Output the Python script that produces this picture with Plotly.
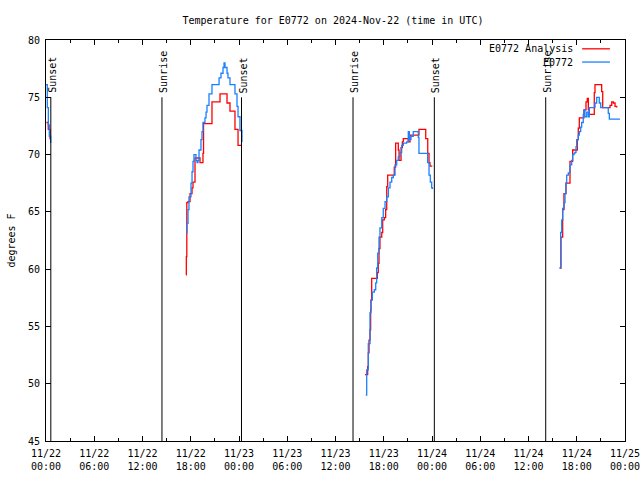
import pandas as pd
import plotly.graph_objects as go

TITLE = "Temperature for E0772 on 2024-Nov-22 (time in UTC)"
BASE = pd.Timestamp("2024-11-22 00:00")

# hours since 2024-11-22 00:00 UTC, temperature in degrees F (segments separated by gaps)
ana_h = [
    [0.05, 0.28, 0.50, 0.56],
    [17.41, 17.45, 17.51, 17.66, 17.91, 18.16, 18.28, 18.53, 19.15, 19.52, 19.59, 20.64,
     21.64, 22.51, 22.88, 23.50, 23.88, 24.37],
    [39.67, 40.00, 40.08, 40.17, 40.29, 40.37, 40.41, 40.50, 41.20, 41.32, 41.41, 41.53,
     41.75, 41.87, 42.07, 42.24, 42.37, 42.49, 43.31, 43.48, 43.81, 43.90, 44.15, 44.31,
     44.43, 45.05, 45.27, 46.38, 47.22, 47.47, 47.63, 47.75, 48.04],
    [63.92, 64.04, 64.25, 64.41, 64.66, 65.16, 65.49, 66.07, 66.19, 66.32, 66.90, 67.15,
     67.31, 67.44, 67.56, 68.18, 68.27, 69.10, 69.23, 70.14, 70.35, 70.55, 70.76, 70.97],
]
ana_t = [
    [72.8, 72.2, 71.4, 71.4],
    [59.5, 61.1, 65.8, 65.9, 66.6, 67.1, 67.6, 69.7, 69.3, 70.1, 72.7, 74.6,
     75.3, 74.5, 73.8, 72.2, 70.8, 70.8],
    [50.8, 51.5, 52.7, 53.8, 54.7, 56.4, 57.3, 59.2, 59.7, 60.5, 61.8, 62.8,
     63.2, 64.3, 64.5, 65.2, 67.2, 68.2, 68.9, 71.0, 70.4, 69.5, 70.6, 71.1,
     71.4, 71.1, 71.7, 72.2, 71.4, 70.1, 69.3, 69.0, 69.0],
    [60.1, 62.8, 65.2, 66.6, 67.5, 69.4, 70.4, 71.3, 72.3, 73.2, 73.9, 74.6,
     74.9, 73.9, 73.5, 75.4, 76.1, 75.5, 74.1, 74.3, 74.6, 74.5, 74.2, 74.1],
]
obs_h = [
    [0.00, 0.16, 0.29, 0.41, 0.58],
    [17.41, 17.53, 17.66, 17.78, 18.03, 18.16, 18.28, 18.40, 18.65, 18.78, 18.90, 19.03,
     19.27, 19.40, 19.52, 19.77, 19.90, 20.02, 20.27, 20.64, 21.52, 21.76, 22.01, 22.14,
     22.26, 22.51, 22.63, 22.88, 23.50, 23.75, 23.88, 24.12, 24.37],
    [39.76, 39.88, 40.08, 40.29, 40.41, 40.58, 40.83, 41.00, 41.12, 41.25, 41.41, 41.53,
     41.75, 41.94, 42.16, 42.37, 42.57, 42.78, 42.99, 43.19, 43.40, 43.61, 43.81, 44.02,
     44.23, 44.43, 44.85, 45.05, 45.18, 45.39, 45.67, 46.30, 46.38, 47.46, 47.63, 47.79,
     47.96, 48.06],
    [63.83, 64.00, 64.13, 64.25, 64.41, 64.54, 64.66, 64.75, 64.95, 65.16, 65.37, 65.49,
     65.66, 65.78, 65.91, 65.99, 66.19, 66.32, 66.49, 66.61, 66.81, 66.90, 67.02, 67.24,
     67.44, 67.56, 68.27, 68.48, 68.80, 68.98, 69.92, 70.05, 71.38],
]
obs_t = [
    [76.1, 74.1, 72.6, 71.6, 71.0],
    [63.2, 64.0, 65.2, 66.3, 67.5, 68.5, 69.4, 70.0, 69.5, 69.3, 69.5, 70.4,
     71.3, 72.0, 72.8, 73.2, 73.7, 74.3, 75.3, 76.1, 76.7, 77.1, 77.6, 78.0,
     77.6, 77.1, 76.7, 76.1, 75.3, 74.2, 73.3, 72.1, 71.1],
    [49.0, 51.2, 53.5, 56.2, 57.3, 58.0, 58.2, 58.8, 60.1, 61.4, 62.8, 63.6,
     64.5, 65.3, 65.9, 66.3, 67.1, 67.6, 68.0, 68.2, 69.1, 69.5, 69.8, 70.2,
     70.8, 71.0, 71.1, 72.0, 71.3, 71.6, 72.0, 71.5, 70.1, 69.3, 68.2, 67.6,
     67.1, 67.0],
    [60.1, 63.2, 64.3, 65.3, 65.8, 66.6, 67.5, 68.2, 68.4, 69.1, 69.5, 70.0,
     70.1, 70.2, 70.7, 71.3, 71.7, 72.0, 72.4, 72.8, 73.5, 73.9, 73.3, 73.7,
     73.3, 74.1, 74.5, 75.0, 74.5, 74.1, 73.6, 73.1, 73.1],
]

series_names = ["E0772 Analysis", "E0772"]
series_colors = ["#ff0000", "#1a80ff"]

sun_labels = ["Sunset", "Sunrise", "Sunset", "Sunrise", "Sunset", "Sunrise"]
sun_hours = [0.60, 14.42, 24.31, 38.18, 48.29, 62.14]

tick_hours = [0, 6, 12, 18, 24, 30, 36, 42, 48, 54, 60, 66, 72]
tick_labels = ["11/22<br>00:00", "11/22<br>06:00", "11/22<br>12:00", "11/22<br>18:00",
               "11/23<br>00:00", "11/23<br>06:00", "11/23<br>12:00", "11/23<br>18:00",
               "11/24<br>00:00", "11/24<br>06:00", "11/24<br>12:00", "11/24<br>18:00",
               "11/25<br>00:00"]
y_ticks = [45, 50, 55, 60, 65, 70, 75, 80]


def to_time(h):
    return BASE + pd.to_timedelta(h, unit="h")


def join(segs_h, segs_t):
    xs, ys = [], []
    for hs, ts in zip(segs_h, segs_t):
        xs += [to_time(h) for h in hs] + [None]
        ys += list(ts) + [None]
    return xs, ys


FONT = "DejaVu Sans Mono"
fig = go.Figure()
for (sh, st), name, col in zip([(ana_h, ana_t), (obs_h, obs_t)], series_names, series_colors):
    xs, ys = join(sh, st)
    fig.add_trace(go.Scatter(x=xs, y=ys, mode="lines", name=name, showlegend=False,
                             line=dict(color=col, width=1.3, shape="hv"),
                             connectgaps=False))

shapes = []
annotations = []
for lab, h in zip(sun_labels, sun_hours):
    t = to_time(h)
    shapes.append(dict(type="line", xref="x", yref="y", x0=t, x1=t, y0=45, y1=75,
                       line=dict(color="black", width=1)))
    annotations.append(dict(x=t, y=75.2, xref="x", yref="y", text=lab, textangle=-90,
                            showarrow=False, xanchor="center", yanchor="bottom",
                            xshift=2, font=dict(family=FONT, size=10, color="black")))

# legend (text on the left, sample line on the right, like the original)
leg_y = [0.978, 0.945]
for name, col, yy in zip(series_names, series_colors, leg_y):
    annotations.append(dict(x=0.914, y=yy, xref="paper", yref="paper", text=name,
                            showarrow=False, xanchor="right", yanchor="middle",
                            font=dict(family=FONT, size=10, color="black")))
    shapes.append(dict(type="line", xref="paper", yref="paper", x0=0.926, x1=0.974,
                       y0=yy, y1=yy, line=dict(color=col, width=1.3)))

W, H = 640, 480
fig.update_layout(
    width=W, height=H,
    margin=dict(l=46, r=15, t=40, b=39),
    paper_bgcolor="white", plot_bgcolor="white",
    title=dict(text=TITLE, x=(46 + 625) / 2 / W - 0.004, xanchor="center",
               y=1 - 20 / H, yanchor="middle",
               font=dict(family=FONT, size=10, color="black")),
    shapes=shapes, annotations=annotations,
    showlegend=False,
    xaxis=dict(range=[to_time(0), to_time(72)], tickvals=[to_time(h) for h in tick_hours],
               ticktext=tick_labels, ticks="inside", ticklen=5, tickcolor="black",
               showline=True, linecolor="black", linewidth=1, mirror="allticks",
               showgrid=False, zeroline=False, automargin=False,
               ticklabeloverflow="allow", ticklabelstandoff=3,
               minor=dict(dtick=3 * 3600 * 1000, ticks="inside", ticklen=3,
                          tickcolor="black", showgrid=False),
               tickfont=dict(family=FONT, size=10, color="black")),
    yaxis=dict(range=[45, 80], tickvals=y_ticks, ticks="inside", ticklen=5,
               tickcolor="black", showline=True, linecolor="black", linewidth=1,
               mirror="allticks", showgrid=False, zeroline=False, automargin=False,
               ticklabelstandoff=3,
               title=dict(text="degrees F", font=dict(family=FONT, size=10, color="black"),
                          standoff=10),
               tickfont=dict(family=FONT, size=10, color="black")),
)

fig.write_html("out.html", config={"displayModeBar": False},
               post_script="document.body.style.margin='0';")
